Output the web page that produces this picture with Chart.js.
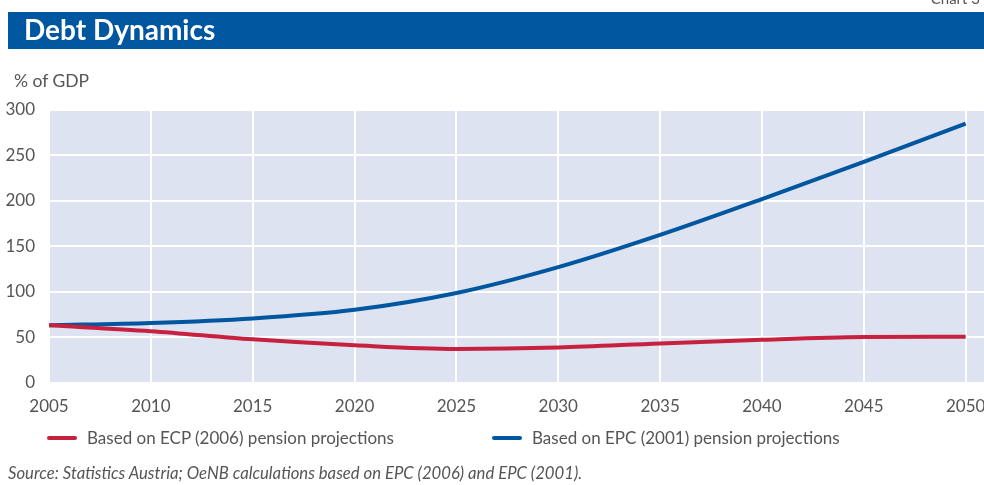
<!DOCTYPE html>
<html>
<head>
<meta charset="utf-8">
<script src="https://cdn.jsdelivr.net/npm/chart.js@4/dist/chart.umd.min.js"></script>
<style>
  html, body { margin:0; padding:0; background:#fff; }
  body { width:984px; height:485px; position:relative; overflow:hidden; font-family: Lato, "Open Sans", sans-serif; color:#555; }
  #wrap { position:absolute; left:0; top:0; width:984px; height:485px; }
  #titlebar { position:absolute; left:8px; top:12px; width:976px; height:37px; background:#0156a0; }
  #title { position:absolute; left:16px; top:0px; color:#fff; font-weight:bold; font-size:28px; }
  #chartno { position:absolute; right:4px; top:-11px; font-size:15px; color:#555; }
  #unit { position:absolute; left:14px; top:70px; font-size:17.5px; color:#555; }
  .leg { position:absolute; top:427px; font-size:17px; color:#555; white-space:nowrap; }
  .leg .sw { position:absolute; left:0; top:9px; width:30px; height:4px; border-radius:2px; }
  .leg .tx { position:absolute; left:40px; top:0; }
  #source { position:absolute; left:8px; top:463px; font-size:16.7px; font-style:italic; color:#555; white-space:nowrap; }
</style>
</head>
<body>
<div id="wrap"><canvas id="c" width="984" height="485"></canvas></div>
<div id="chartno">Chart 3</div>
<div id="titlebar"><div id="title">Debt Dynamics</div></div>
<div id="unit">% of GDP</div>
<div id="leg1" class="leg" style="left:47px"><div class="sw" style="background:#c8203f"></div><div class="tx"></div></div>
<div id="leg2" class="leg" style="left:492px"><div class="sw" style="background:#0156a0"></div><div class="tx"></div></div>
<div id="source">Source: Statistics Austria; OeNB calculations based on EPC (2006) and EPC (2001).</div>
<script>
const years = [2005, 2010, 2015, 2020, 2025, 2030, 2035, 2040, 2045, 2050];
const ecp2006 = [63, 56.5, 47.5, 41, 37, 38.5, 43, 47, 50, 50.5];
const epc2001 = [63, 65.5, 70.5, 80, 98.5, 127, 162.5, 202, 243, 285];
const seriesNames = ["Based on ECP (2006) pension projections", "Based on EPC (2001) pension projections"];
const xTicks = [2005, 2010, 2015, 2020, 2025, 2030, 2035, 2040, 2045, 2050];
const yTicks = [0, 50, 100, 150, 200, 250, 300];

document.querySelector('#leg1 .tx').textContent = seriesNames[0];
document.querySelector('#leg2 .tx').textContent = seriesNames[1];

const bgPlugin = {
  id: 'plotbg',
  beforeDraw(chart) {
    const a = chart.chartArea, ctx = chart.ctx;
    ctx.save();
    ctx.fillStyle = '#dde3f0';
    ctx.fillRect(a.left, a.top, a.right - a.left, a.bottom - a.top);
    ctx.restore();
  }
};

new Chart(document.getElementById('c'), {
  type: 'line',
  data: {
    datasets: [
      { label: seriesNames[0], data: years.map((y, i) => ({x: y, y: ecp2006[i]})), borderColor: '#c8203f', borderWidth: 4, pointRadius: 0, cubicInterpolationMode: 'monotone', fill: false },
      { label: seriesNames[1], data: years.map((y, i) => ({x: y, y: epc2001[i]})), borderColor: '#0156a0', borderWidth: 4, pointRadius: 0, cubicInterpolationMode: 'monotone', fill: false }
    ]
  },
  options: {
    responsive: false,
    animation: false,
    layout: { padding: { left: 0, right: 0, top: 110, bottom: 62.5 } },
    plugins: { legend: { display: false }, tooltip: { enabled: false } },
    scales: {
      x: {
        type: 'linear', min: 2005, max: 2050.9,
        afterBuildTicks(s) { s.ticks = xTicks.map(v => ({ value: v })); },
        afterFit(s) { s.height = 40; s.paddingLeft = 0; s.paddingRight = 0; },
        grid: { color: '#ffffff', lineWidth: 2, drawTicks: false },
        border: { display: false },
        ticks: { color: '#555', font: { family: 'Lato', size: 17 }, padding: 14, maxRotation: 0, callback: v => String(v) }
      },
      y: {
        min: 0, max: 300,
        afterBuildTicks(s) { s.ticks = yTicks.map(v => ({ value: v })); },
        afterFit(s) { s.width = 49; s.paddingTop = 0; s.paddingBottom = 0; },
        grid: { color: '#ffffff', lineWidth: 2, drawTicks: false },
        border: { display: false },
        ticks: { color: '#555', font: { family: 'Lato', size: 17 }, padding: 14 }
      }
    }
  },
  plugins: [bgPlugin]
});
</script>
</body>
</html>
